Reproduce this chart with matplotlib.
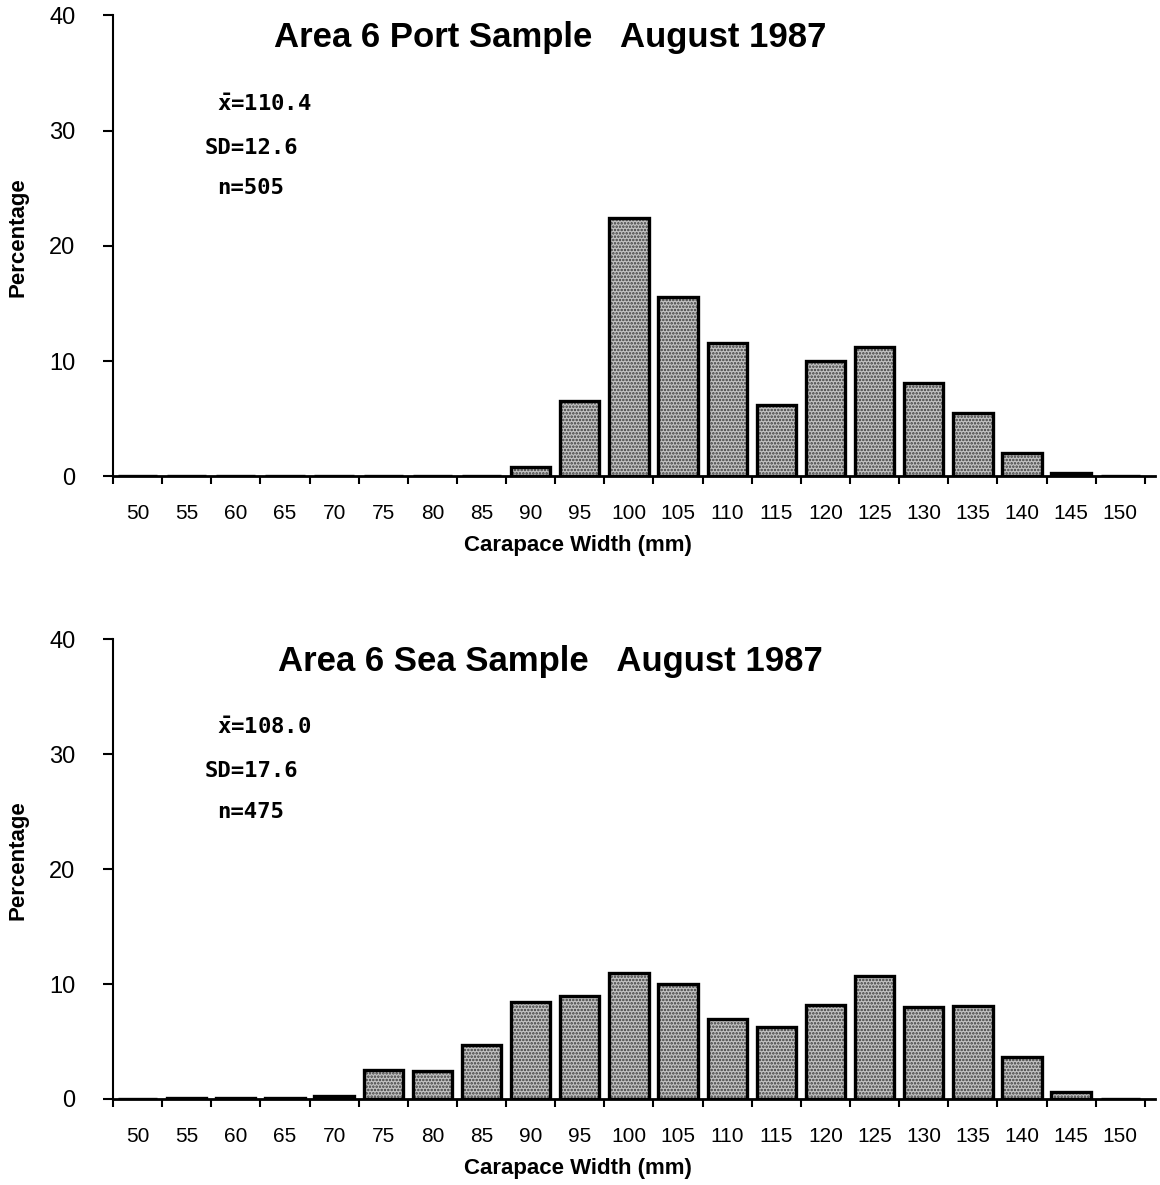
import numpy as np
from matplotlib import pyplot as plt

widths = [50, 55, 60, 65, 70, 75, 80, 85, 90, 95, 100, 105, 110, 115, 120, 125, 130, 135, 140, 145, 150]
port = [0, 0, 0, 0, 0, 0, 0, 0, 0.8, 6.5, 22.4, 15.6, 11.6, 6.2, 10.0, 11.2, 8.1, 5.5, 2.0, 0.3, 0]
sea = [0, 0.05, 0.1, 0.1, 0.3, 2.5, 2.4, 4.7, 8.4, 9.0, 11.0, 10.0, 7.0, 6.3, 8.2, 10.7, 8.0, 8.1, 3.65, 0.6, 0]

titles = ["Area 6 Port Sample   August 1987", "Area 6 Sea Sample   August 1987"]
stats = [["$\\bar{x}$=110.4", "SD=12.6", "n=505"], ["$\\bar{x}$=108.0", "SD=17.6", "n=475"]]

plt.rcParams['font.family'] = ['Liberation Sans', 'DejaVu Sans']
plt.rcParams['hatch.linewidth'] = 1.2
plt.rcParams['mathtext.fontset'] = 'custom'
plt.rcParams['mathtext.rm'] = 'DejaVu Sans Mono:bold'
plt.rcParams['mathtext.it'] = 'DejaVu Sans Mono:bold'
plt.rcParams['mathtext.bf'] = 'DejaVu Sans Mono:bold'

fig = plt.figure(figsize=(11.6, 11.85), dpi=100)
ax1 = fig.add_axes([0.0974, 0.598, 0.898, 0.389])
ax2 = fig.add_axes([0.0974, 0.0726, 0.898, 0.388])

pos = np.arange(len(widths))
for ax, vals, title, st in zip([ax1, ax2], [port, sea], titles, stats):
    ax.bar(pos, vals, width=0.8, color='#c2c2c2', edgecolor='#3a3a3a', hatch='.....', linewidth=0)
    ax.bar(pos, vals, width=0.8, fill=False, edgecolor='black', linewidth=2.4)
    ax.set_xlim(-0.5, len(widths) - 0.3)
    ax.set_ylim(0, 40)
    ax.spines['top'].set_visible(False)
    ax.spines['right'].set_visible(False)
    ax.spines['left'].set_linewidth(1.5)
    ax.spines['bottom'].set_linewidth(2)
    ax.set_yticks([0, 10, 20, 30, 40])
    ax.tick_params(axis='y', length=7, width=1.5, labelsize=17, pad=20)
    ax.set_xticks(np.arange(len(widths) + 1) - 0.5)
    ax.set_xticklabels([])
    ax.tick_params(axis='x', which='major', length=6, width=1.5)
    ax.set_xticks(pos, minor=True)
    ax.set_xticklabels([str(w) for w in widths], minor=True)
    ax.tick_params(axis='x', which='minor', length=0, labelsize=15, pad=20)
    ax.set_xlabel("Carapace Width (mm)", fontsize=16, fontweight='bold')
    ax.xaxis.set_label_coords(0.446, -0.128)
    ax.set_ylabel("Percentage", fontsize=16, fontweight='bold')
    ax.yaxis.set_label_coords(-0.081, 0.52)
    ax.text(0.42, 38.1, title, transform=ax.get_yaxis_transform(), ha='center', va='center',
            fontsize=25, fontweight='bold')
    ax.text(0.10, 32.3, st[0], transform=ax.get_yaxis_transform(), ha='left', va='center',
            fontsize=16, fontweight='bold', family='DejaVu Sans Mono')
    ax.text(0.088, 28.5, st[1], transform=ax.get_yaxis_transform(), ha='left', va='center',
            fontsize=16, fontweight='bold', family='DejaVu Sans Mono')
    ax.text(0.10, 25.0, st[2], transform=ax.get_yaxis_transform(), ha='left', va='center',
            fontsize=16, fontweight='bold', family='DejaVu Sans Mono')

fig.savefig('out.png', dpi=100)
